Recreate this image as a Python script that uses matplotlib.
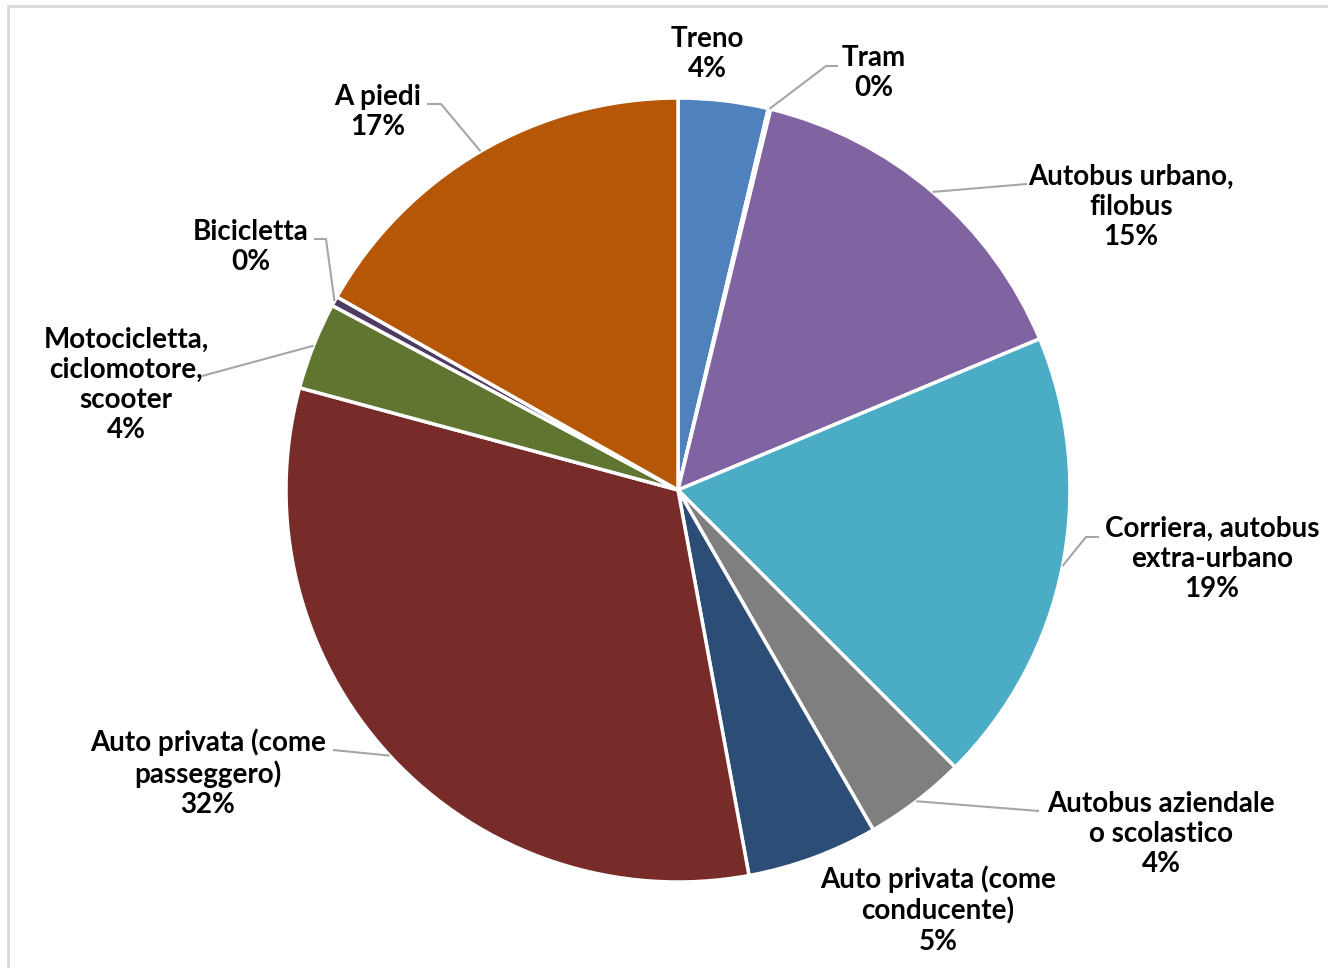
import matplotlib
matplotlib.use('Agg')
import matplotlib.pyplot as plt
import numpy as np
from matplotlib.patches import Rectangle

# mezzi di trasporto (quote percentuali)
labels = ['Treno', 'Tram', 'Autobus urbano,\nfilobus', 'Corriera, autobus\nextra-urbano',
          'Autobus aziendale\no scolastico', 'Auto privata (come\nconducente)',
          'Auto privata (come\npasseggero)', 'Motocicletta,\nciclomotore,\nscooter',
          'Bicicletta', 'A piedi']
values = [3.7, 0.1, 14.9, 18.8, 4.2, 5.4, 32.1, 3.6, 0.4, 16.8]
colors = ['#4F81BD', '#C0504D', '#8064A2', '#4BACC6', '#7F7F7F', '#2C4D75',
          '#772C2A', '#5F7530', '#4D3B62', '#B65708']

W, H = 1328, 968


def px(x, y):
    return x, H - y


# posizione etichette (centro testo), gomito e fine della linea guida
label_pos = [(707, 54), (874, 73), (1131, 207), (1212, 559), (1161, 834),
             (938, 910), (208, 773), (126, 385), (251, 247), (378, 112)]
leader = [None, [(826, 66), (838, 66)], [(1027, 184)], [(1086, 537), (1099, 537)],
          [(1039, 811)], None, [(333, 750)], [(202, 376)],
          [(326, 239), (314, 239)], [(441, 104), (427, 104)]]

cx, cy = px(678, 490)
R = 392

fig = plt.figure(figsize=(W / 100, H / 100), dpi=100)
ax = fig.add_axes([0, 0, 1, 1])

ax.add_patch(Rectangle((8, -20), W + 40, H - 6 + 20, fill=False,
                       edgecolor='#D9D9D9', linewidth=2))

wedges, _ = ax.pie(values, colors=colors, startangle=90, counterclock=False,
                   center=(cx, cy), radius=R, frame=True,
                   wedgeprops=dict(edgecolor='white', linewidth=2.5))
ax.set_xlim(0, W)
ax.set_ylim(0, H)
ax.set_aspect('equal')
ax.axis('off')

total = sum(values)
for w, lab, v, pos, ld in zip(wedges, labels, values, label_pos, leader):
    txt = f"{lab}\n{v / total * 100:.0f}%"
    tx, ty = px(*pos)
    ax.text(tx, ty, txt, ha='center', va='center', fontsize=20, fontweight='bold',
            family='Lato', linespacing=1.2, color='black')
    if ld:
        mid = np.deg2rad((w.theta1 + w.theta2) / 2)
        start = (cx + R * np.cos(mid), cy + R * np.sin(mid))
        pts = [start] + [px(*p) for p in ld]
        xs, ys = zip(*pts)
        ax.plot(xs, ys, color='#A6A6A6', linewidth=1.5, solid_capstyle='butt')

fig.savefig('out.png', dpi=100)
